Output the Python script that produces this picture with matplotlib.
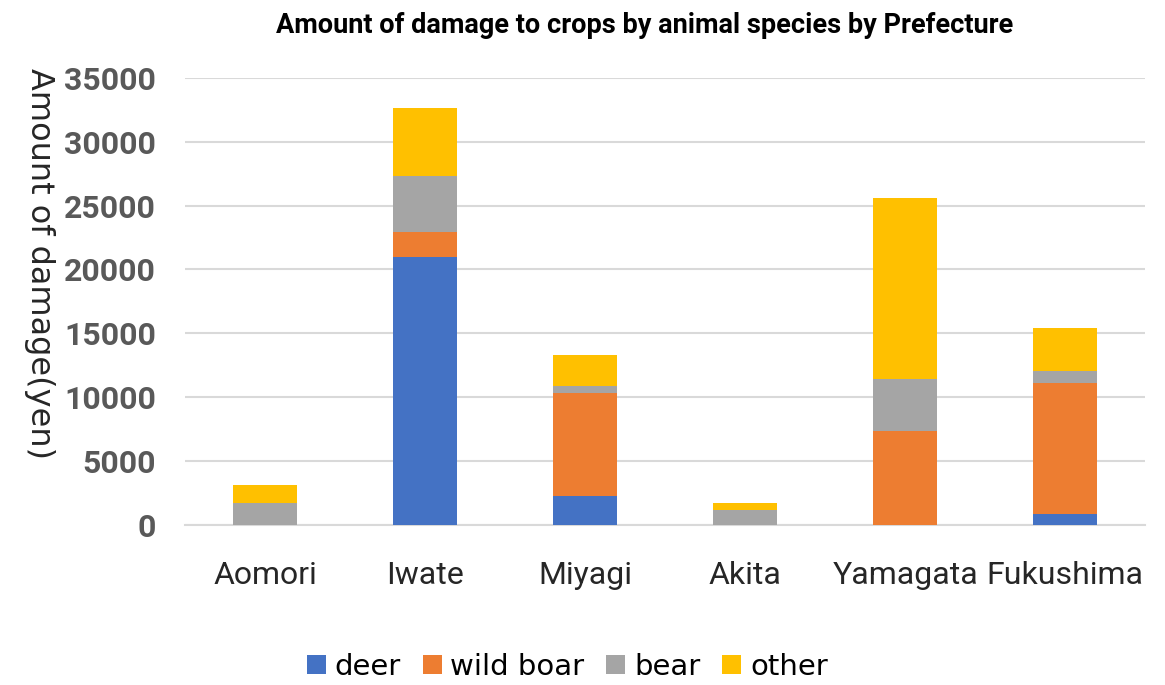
import numpy as np
import matplotlib
matplotlib.use("Agg")
import matplotlib.pyplot as plt

# values (yen)
prefectures = ["Aomori", "Iwate", "Miyagi", "Akita", "Yamagata", "Fukushima"]
deer = [0, 21000, 2270, 0, 0, 840]
wild_boar = [0, 1950, 8050, 0, 7380, 10300]
bear = [1720, 4400, 520, 1170, 4000, 920]
other = [1410, 5300, 2480, 570, 14250, 3340]

species = ["deer", "wild boar", "bear", "other"]
colors = ["#4472C4", "#ED7D31", "#A5A5A5", "#FFC000"]

narrow = ["Roboto", "DejaVu Sans"]

fig = plt.figure(figsize=(11.65, 6.85), dpi=100)
ax = fig.add_axes([0.159, 0.234, 0.824, 0.652])

x = np.arange(len(prefectures))
bottom = np.zeros(len(prefectures))
for name, vals, c in zip(species, [deer, wild_boar, bear, other], colors):
    ax.bar(x, vals, width=0.4, bottom=bottom, color=c, label=name, zorder=3)
    bottom += np.array(vals)

ax.set_xlim(-0.5, 5.5)
ax.set_ylim(0, 35000)
ax.set_yticks(np.arange(0, 35001, 5000))
ax.yaxis.grid(True, color="#D9D9D9", linewidth=1.5, zorder=0)
for s in ["top", "right", "left"]:
    ax.spines[s].set_visible(False)
ax.spines["bottom"].set_color("#D9D9D9")
ax.spines["bottom"].set_linewidth(1.5)
ax.tick_params(axis="both", length=0)
ax.tick_params(axis="y", pad=21)
ax.tick_params(axis="x", pad=26)

ax.set_xticks(x)
ax.set_xticklabels(prefectures, family=narrow, fontsize=23, color="#262626")
for lbl in ax.get_yticklabels():
    lbl.set_family(narrow)
    lbl.set_fontsize(23)
    lbl.set_fontweight("bold")
    lbl.set_color("#595959")

ax.set_ylabel("Amount of damage(yen)", fontsize=23, rotation=270,
              color="#262626", va="center")
ax.yaxis.set_label_coords(-0.152, 0.585)

fig.suptitle("Amount of damage to crops by animal species by Prefecture",
             family=narrow, fontsize=19.5, fontweight="bold", x=0.553, y=0.982)

fig.legend(loc="lower center", bbox_to_anchor=(0.487, -0.032), ncol=4,
           frameon=False, fontsize=21, handlelength=0.65, handleheight=0.65,
           handletextpad=0.3, columnspacing=0.75)

fig.savefig("out.png", dpi=100)
